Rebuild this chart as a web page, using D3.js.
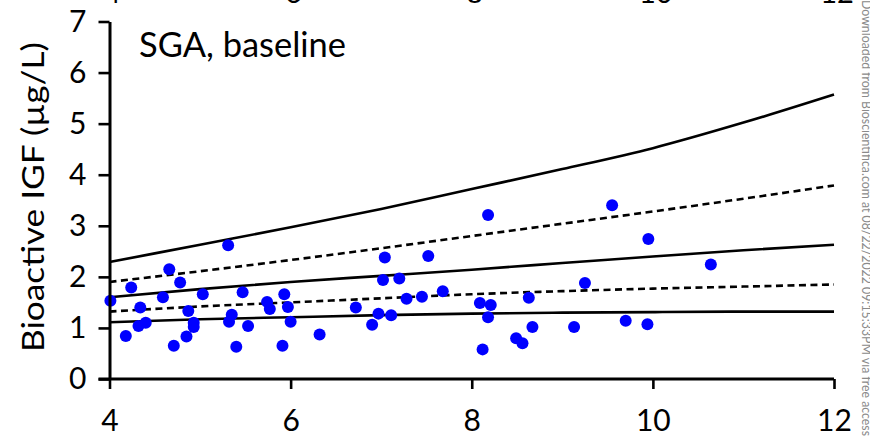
<!DOCTYPE html>
<html>
<head>
<meta charset="utf-8">
<script src="https://cdn.jsdelivr.net/npm/d3@7"></script>
<style>
  html, body { margin: 0; padding: 0; background: #fff; overflow: hidden; }
  svg { display: block; }
  text { font-family: Lato, "Open Sans", sans-serif; }
</style>
</head>
<body>
<svg id="chart" width="870" height="436"></svg>
<script>
// ---- data ----
const ageX = [4.01,4.18,4.24,4.34,4.32,4.40,4.59,4.66,4.78,4.71,4.87,4.85,4.93,4.93,5.03,5.31,5.35,5.32,5.40,5.47,5.53,5.74,5.77,5.93,5.97,5.91,6.00,6.32,6.72,6.90,6.97,7.04,7.02,7.11,7.20,7.28,7.45,7.52,7.68,8.09,8.21,8.18,8.18,8.12,8.63,8.67,8.49,8.56,9.13,9.25,9.55,9.70,9.95,9.94,10.64];
const igfY = [1.53,0.84,1.79,1.40,1.04,1.10,1.60,2.15,1.89,0.65,1.33,0.83,1.10,1.02,1.66,2.62,1.26,1.12,0.63,1.70,1.04,1.51,1.37,1.66,1.41,0.65,1.12,0.87,1.40,1.06,1.28,2.38,1.94,1.25,1.97,1.57,1.61,2.41,1.72,1.49,1.45,1.21,3.21,0.58,1.59,1.02,0.80,0.70,1.02,1.88,3.40,1.14,2.74,1.07,2.24];

const refAge = [4,5,6,7,8,9,10,11,12];
const refTopSolid    = [2.29,2.63,2.97,3.33,3.72,4.11,4.52,5.02,5.57];
const refUpperDashed = [1.90,2.11,2.33,2.56,2.80,3.04,3.28,3.53,3.79];
const refMiddle      = [1.60,1.76,1.90,2.02,2.14,2.27,2.40,2.52,2.63];
const refLowerDashed = [1.32,1.42,1.50,1.58,1.66,1.72,1.77,1.81,1.85];
const refBottomSolid = [1.11,1.17,1.21,1.25,1.28,1.30,1.31,1.32,1.32];

const xTicks = [4,6,8,10,12];
const yTicks = [0,1,2,3,4,5,6,7];
const titleText = "SGA, baseline";
const yLabelText = "Bioactive IGF (\u00b5g/L)";
const sideText = "Downloaded from Bioscientifica.com at 08/22/2022 09:15:33PM via free access";

// ---- chart ----
const svg = d3.select("#chart");
const x = d3.scaleLinear().domain([4,12]).range([109.5,834]);
const y = d3.scaleLinear().domain([0,7]).range([379,21.5]);

// cropped tick labels of panel above
svg.append("g").selectAll("text").data(xTicks).join("text")
  .attr("x", d => x(d) + 3).attr("y", 3)
  .attr("text-anchor", "middle")
  .style("font-size", "29px").attr("fill", "#000")
  .text(d => d);

// reference curves
const curves = [
  {v: refTopSolid, dash: null},
  {v: refUpperDashed, dash: "7,4.5"},
  {v: refMiddle, dash: null},
  {v: refLowerDashed, dash: "7,4.5"},
  {v: refBottomSolid, dash: null}
];
const line = d3.line().x((d,i) => x(refAge[i])).y(d => y(d)).curve(d3.curveMonotoneX);
svg.append("g").selectAll("path").data(curves).join("path")
  .attr("d", c => line(c.v))
  .attr("fill", "none").attr("stroke", "#000").attr("stroke-width", 2.6)
  .attr("stroke-dasharray", c => c.dash);

// points
svg.append("g").selectAll("circle").data(ageX).join("circle")
  .attr("cx", d => x(d)).attr("cy", (d,i) => y(igfY[i]))
  .attr("r", 6).attr("fill", "#0000ff");

// axes
const xAxis = svg.append("g").attr("transform", `translate(0,${y(0)})`)
  .call(d3.axisBottom(x).tickValues(xTicks).tickFormat(d3.format("d"))
    .tickSize(10).tickPadding(21).tickSizeOuter(0));
const yAxis = svg.append("g").attr("transform", `translate(${x(4)},0)`)
  .call(d3.axisLeft(y).tickValues(yTicks).tickFormat(d3.format("d"))
    .tickSize(11).tickPadding(12).tickSizeOuter(0));
[xAxis, yAxis].forEach(g => {
  g.select(".domain").attr("stroke", "#000").attr("stroke-width", 3);
  g.selectAll(".tick line").attr("stroke", "#000").attr("stroke-width", 2.6);
  g.selectAll(".tick text").attr("fill", "#000").style("font-size", "30px")
    .style("font-family", "Lato, 'Open Sans', sans-serif");
});
xAxis.select(".domain").attr("d", `M${x(4)-11},0H${x(12)}`);

// title
svg.append("text").attr("x", 139).attr("y", 57)
  .style("font-size", "34px").attr("fill", "#000")
  .attr("textLength", 207).attr("lengthAdjust", "spacingAndGlyphs")
  .text(titleText);

// y label
svg.append("text").attr("transform", "translate(44,197) rotate(-90)")
  .attr("text-anchor", "middle")
  .style("font-size", "31px").attr("fill", "#000")
  .attr("textLength", 310).attr("lengthAdjust", "spacingAndGlyphs")
  .text(yLabelText);

// cropped side text
svg.append("text").attr("transform", "translate(862,0) rotate(90)")
  .style("font-size", "14px").attr("fill", "#8a8a8a")
  .attr("textLength", 436).attr("lengthAdjust", "spacingAndGlyphs")
  .text(sideText);
</script>
</body>
</html>
